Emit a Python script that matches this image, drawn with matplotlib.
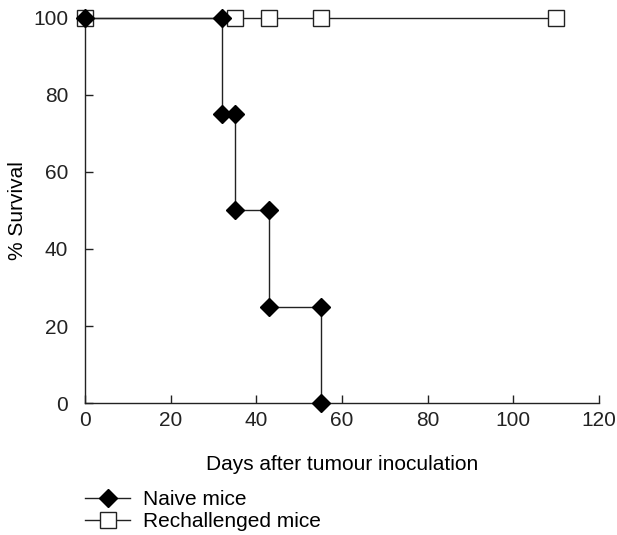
import matplotlib
matplotlib.use("Agg")
import matplotlib.pyplot as plt

plt.rcParams['font.family'] = ['Liberation Sans', 'DejaVu Sans']

# naive mice, Kaplan-Meier steps
naive_days = [0, 32, 32, 35, 35, 43, 43, 55, 55]
naive_surv = [100, 100, 75, 75, 50, 50, 25, 25, 0]

# rechallenged mice, no deaths
rech_days = [0, 35, 43, 55, 110]
rech_surv = [100, 100, 100, 100, 100]

x_ticks = [0, 20, 40, 60, 80, 100, 120]
y_ticks = [0, 20, 40, 60, 80, 100]

fs = 15

fig = plt.figure(figsize=(6.17, 5.35), dpi=100)
ax = fig.add_axes([0.1378, 0.2467, 0.833, 0.7197])

ax.plot(rech_days, rech_surv, color='#222222', lw=1.0, marker='s', ms=11,
        mfc='white', mec='#222222', mew=1.0, clip_on=False, zorder=2,
        label='Rechallenged mice')
ax.plot(naive_days, naive_surv, color='#222222', lw=1.0, marker='D', ms=8.7,
        mfc='black', mec='black', clip_on=False, zorder=3,
        label='Naive mice')

ax.set_xlim(0, 120)
ax.set_ylim(0, 100)
ax.set_xticks(x_ticks)
ax.set_yticks(y_ticks)
ax.spines['top'].set_visible(False)
ax.spines['right'].set_visible(False)
for s in ['left', 'bottom']:
    ax.spines[s].set_linewidth(1.0)
    ax.spines[s].set_color('#222222')
ax.tick_params(direction='in', length=6, width=1.0, labelsize=fs,
               colors='#222222')
ax.tick_params(axis='x', pad=6)
ax.tick_params(axis='y', pad=12)
ax.set_xlabel('Days after tumour inoculation', fontsize=fs, labelpad=18)
ax.set_ylabel('% Survival', fontsize=fs)
ax.yaxis.set_label_coords(-0.112, 0.5)

h, l = ax.get_legend_handles_labels()
fig.legend(h[::-1], l[::-1], loc='upper left', bbox_to_anchor=(0.1378, 0.084),
           frameon=False, fontsize=fs, handlelength=2.16, handletextpad=0.62,
           labelspacing=0.15, borderaxespad=0, borderpad=0)

fig.savefig('out.png', dpi=100)
